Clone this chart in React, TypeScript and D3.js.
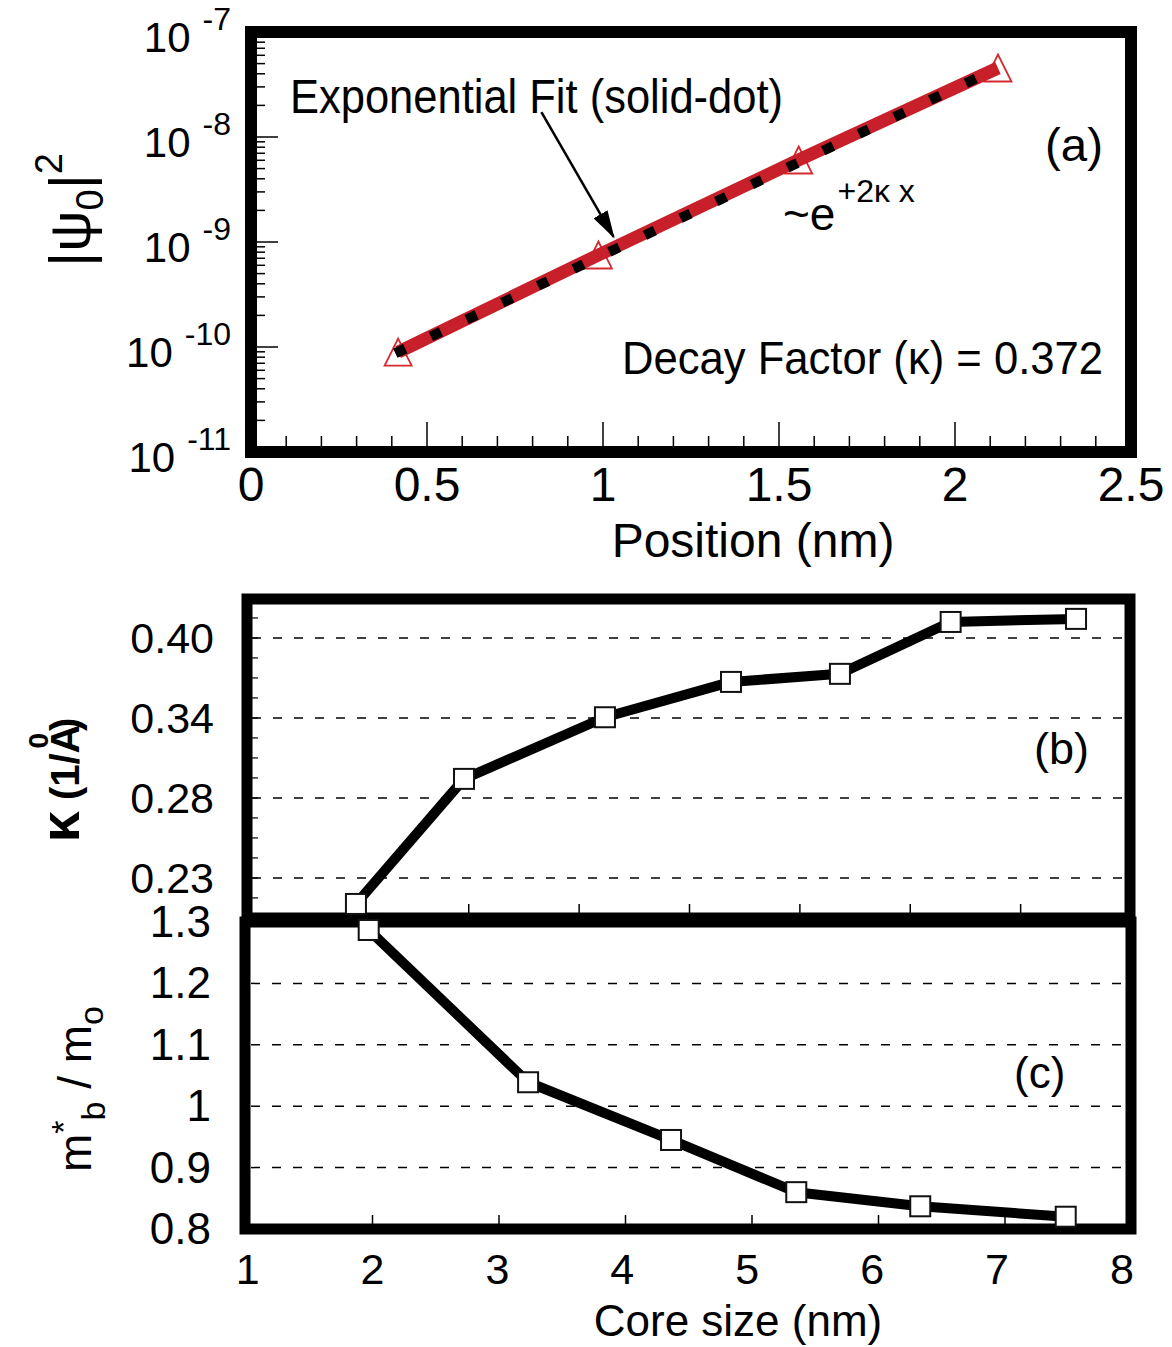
import React from "react";
import * as d3 from "d3";

// ---------- Panel (a) data ----------
const aX = [0.418, 0.987, 1.556, 2.122];
const aY = [8.95e-11, 7.52e-10, 6.04e-9, 4.54e-8];
const fitX = [0.41, 2.09];
const fitY = [8.7e-11, 4.04e-8];
const aXTicks = [0, 0.5, 1, 1.5, 2, 2.5];
const aXTickLabels = ["0", "0.5", "1", "1.5", "2", "2.5"];
const aYExps = [-7, -8, -9, -10, -11];

// ---------- Panel (b) data ----------
const bX = [0.978, 1.957, 3.234, 4.376, 5.363, 6.366, 7.502];
const bY = [0.2088, 0.2987, 0.343, 0.3684, 0.3742, 0.4115, 0.4137];
const bTickValues = [0.4, 0.3425, 0.285, 0.2275];
const bTickLabels = ["0.40", "0.34", "0.28", "0.23"];
const bXTicks = [1, 2, 3, 4, 5, 6, 7];

// ---------- Panel (c) data ----------
const cX = [1.97, 3.23, 4.36, 5.35, 6.33, 7.48];
const cY = [1.287, 1.039, 0.945, 0.86, 0.837, 0.82];
const cTickValues = [1.3, 1.2, 1.1, 1.0, 0.9, 0.8];
const cTickLabels = ["1.3", "1.2", "1.1", "1", "0.9", "0.8"];
const cGrid = [1.2, 1.1, 1.0, 0.9];
const cXTicks = [1, 2, 3, 4, 5, 6, 7, 8];
const cXTickLabels = ["1", "2", "3", "4", "5", "6", "7", "8"];

const F = "'Liberation Sans', Arial, Helvetica, sans-serif";

export default function App() {
  // Panel a scales
  const xA = d3.scaleLinear().domain([0, 2.5]).range([251, 1131]);
  const yA = d3.scaleLog().domain([1e-11, 1e-7]).range([452, 32]);
  // Panel b scales
  const xB = d3.scaleLinear().domain([0, 8]).range([248, 1131]);
  const yB = d3.scaleLinear().domain([0.1987, 0.428]).range([918, 599]);
  // Panel c scales
  const xC = d3.scaleLinear().domain([1, 8]).range([246, 1131.5]);
  const yC = d3.scaleLinear().domain([0.8, 1.3]).range([1229, 922]);

  const redLine = d3.line<number>().x((_, i) => xA(aX[i])).y((_, i) => yA(aY[i]))(aX.map((_, i) => i)) || "";
  const fitLine = d3.line<number>().x((_, i) => xA(fitX[i])).y((_, i) => yA(fitY[i]))(fitX.map((_, i) => i)) || "";
  const bLine = d3.line<number>().x((_, i) => xB(bX[i])).y((_, i) => yB(bY[i]))(bX.map((_, i) => i)) || "";
  const cLine = d3.line<number>().x((_, i) => xC(cX[i])).y((_, i) => yC(cY[i]))(cX.map((_, i) => i)) || "";

  // minor ticks
  const aXMinor = d3.range(1, 25).map((i) => i / 10).filter((v) => Math.abs(v * 2 - Math.round(v * 2)) > 1e-6);
  const aYMinor: number[] = [];
  for (let e = -11; e < -7; e++) for (let k = 2; k <= 9; k++) aYMinor.push(k * Math.pow(10, e));
  const bStep = (0.4 - 0.2275) / 12;
  const bYMinor = d3.range(-2, 17).map((i) => 0.2275 + i * bStep).filter((v) => v > 0.1987 && v < 0.428);

  const tri = "M0,-13.5 L13.5,13.5 L-13.5,13.5 Z";

  // arrow annotation in data coordinates
  const arrowFrom = [0.825, 1.73e-8];
  const arrowTo = [1.03, 1.12e-9];

  return (
    <svg width={1172} height={1347} style={{ position: "absolute", left: 0, top: 0, background: "#fff" }} fontFamily={F}>
      <defs>
        <marker id="ah" markerUnits="userSpaceOnUse" markerWidth={28} markerHeight={16} refX={26} refY={8} orient="auto">
          <path d="M0,0 L28,8 L0,16 Z" fill="#000" />
        </marker>
      </defs>

      {/* ================= Panel (a) ================= */}
      {aXTicks.slice(1, -1).map((v) => (
        <line key={"axM" + v} x1={xA(v)} x2={xA(v)} y1={452} y2={422} stroke="#000" strokeWidth={1.5} />
      ))}
      {aXMinor.map((v) => (
        <line key={"axm" + v} x1={xA(v)} x2={xA(v)} y1={452} y2={436} stroke="#000" strokeWidth={1.5} />
      ))}
      {aYExps.slice(1, -1).map((e) => (
        <line key={"ayM" + e} x1={251} x2={278} y1={yA(Math.pow(10, e))} y2={yA(Math.pow(10, e))} stroke="#000" strokeWidth={1.5} />
      ))}
      {aYMinor.map((v, i) => (
        <line key={"aym" + i} x1={251} x2={265} y1={yA(v)} y2={yA(v)} stroke="#000" strokeWidth={1.5} />
      ))}
      <rect x={251} y={32} width={880} height={420} fill="none" stroke="#000" strokeWidth={12} />

      {aX.map((x, i) => (
        <path key={"tri" + i} d={tri} transform={`translate(${xA(x)},${yA(aY[i])})`} fill="none" stroke="#d42a2f" strokeWidth={1.8} />
      ))}
      <path d={redLine} fill="none" stroke="#c8202a" strokeWidth={13} />
      <path d={fitLine} fill="none" stroke="#000" strokeWidth={10} strokeDasharray="11 28.45" />

      <text x={290} y={113} fontSize={48} textLength={493} lengthAdjust="spacingAndGlyphs">Exponential Fit (solid-dot)</text>
      <line x1={xA(arrowFrom[0])} y1={yA(arrowFrom[1])} x2={xA(arrowTo[0])} y2={yA(arrowTo[1])} stroke="#000" strokeWidth={2.5} markerEnd="url(#ah)" />
      <text x={1045} y={161} fontSize={46} textLength={58} lengthAdjust="spacingAndGlyphs">(a)</text>
      <text x={783} y={230} fontSize={46}>~e<tspan dx={2} dy={-28} fontSize={32}>+2κ x</tspan></text>
      <text x={622} y={374} fontSize={47} textLength={481} lengthAdjust="spacingAndGlyphs">Decay Factor (κ) = 0.372</text>

      {aYExps.map((e) => (
        <text key={"ayl" + e} x={231} y={yA(Math.pow(10, e)) + 20} fontSize={42} textAnchor="end">
          10<tspan dx={12} dy={-22} fontSize={32}>{String(e)}</tspan>
        </text>
      ))}
      {aXTicks.map((v, i) => (
        <text key={"axl" + v} x={xA(v)} y={501} fontSize={48} textAnchor="middle">{aXTickLabels[i]}</text>
      ))}
      <text x={753} y={557} fontSize={48} textAnchor="middle">Position (nm)</text>
      <text transform="translate(90,210) rotate(-90)" fontSize={58} textAnchor="middle">
        |ψ<tspan dy={13} fontSize={38}>0</tspan><tspan dy={-13} fontSize={58}>|</tspan><tspan dy={-28} fontSize={38}>2</tspan>
      </text>

      {/* ================= Panel (b) ================= */}
      {bTickValues.map((v) => (
        <line key={"bg" + v} x1={252} x2={1124} y1={yB(v)} y2={yB(v)} stroke="#000" strokeWidth={1.5} strokeDasharray="9 12" />
      ))}
      {bYMinor.map((v, i) => (
        <line key={"bym" + i} x1={247} x2={258} y1={yB(v)} y2={yB(v)} stroke="#000" strokeWidth={1.2} />
      ))}
      {bXTicks.map((v) => (
        <line key={"bxt" + v} x1={xB(v)} x2={xB(v)} y1={918} y2={904} stroke="#000" strokeWidth={1.5} />
      ))}
      <rect x={247} y={599} width={883} height={319} fill="none" stroke="#000" strokeWidth={11} />

      {bTickValues.map((v, i) => (
        <text key={"byl" + v} x={214} y={yB(v) + 15} fontSize={43} textAnchor="end">{bTickLabels[i]}</text>
      ))}
      <text x={1034} y={764} fontSize={45}>(b)</text>
      <text transform="translate(79,780) rotate(-90)" fontSize={40} fontWeight="bold" textAnchor="middle">
        <tspan fontSize={56}>κ</tspan> (1/A<tspan dx={-24} dy={-31} fontSize={28}>0</tspan><tspan dx={2} dy={31}>)</tspan>
      </text>

      {/* ================= Panel (c) ================= */}
      {cGrid.map((v) => (
        <line key={"cg" + v} x1={251} x2={1124} y1={yC(v)} y2={yC(v)} stroke="#000" strokeWidth={1.5} strokeDasharray="9 12" />
      ))}
      {cXTicks.slice(1, -1).map((v) => (
        <line key={"cxt" + v} x1={xC(v)} x2={xC(v)} y1={1229} y2={1215} stroke="#000" strokeWidth={1.5} />
      ))}
      <rect x={245} y={922} width={886} height={307} fill="none" stroke="#000" strokeWidth={11} />

      <path d={bLine} fill="none" stroke="#000" strokeWidth={10} strokeLinejoin="round" />
      {bX.map((x, i) => (
        <rect key={"bs" + i} x={xB(x) - 10} y={yB(bY[i]) - 10} width={20} height={20} fill="#fff" stroke="#111" strokeWidth={2} />
      ))}
      <path d={cLine} fill="none" stroke="#000" strokeWidth={10} strokeLinejoin="round" />
      {cX.map((x, i) => (
        <rect key={"cs" + i} x={xC(x) - 10} y={yC(cY[i]) - 10} width={20} height={20} fill="#fff" stroke="#111" strokeWidth={2} />
      ))}

      {cTickValues.map((v, i) => (
        <text key={"cyl" + v} x={211} y={yC(v) + 15} fontSize={44} textAnchor="end">{cTickLabels[i]}</text>
      ))}
      {cXTicks.map((v, i) => (
        <text key={"cxl" + v} x={xC(v) - (v - 2) * 1.6} y={1284} fontSize={43} textAnchor="middle">{cXTickLabels[i]}</text>
      ))}
      <text x={738} y={1336} fontSize={44} textAnchor="middle">Core size (nm)</text>
      <text x={1014} y={1088} fontSize={44}>(c)</text>
      <text transform="translate(91,1089) rotate(-90)" fontSize={46} textAnchor="middle">
        m<tspan dy={-16} fontSize={34}>*</tspan><tspan dy={30} fontSize={34}>b</tspan><tspan dy={-14}> / m</tspan><tspan dy={12} fontSize={34}>o</tspan>
      </text>
    </svg>
  );
}
